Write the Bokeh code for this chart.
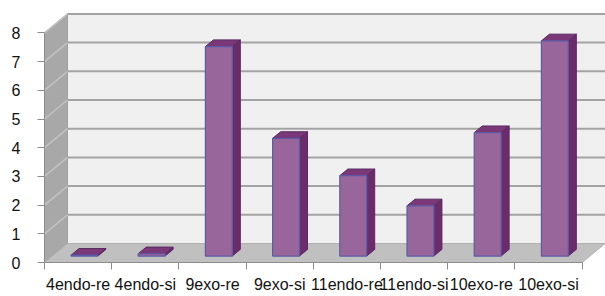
from bokeh.plotting import figure
from bokeh.models import FixedTicker, Range1d
from bokeh.embed import file_html
from bokeh.resources import INLINE

# ---- data ----
categories = ["4endo-re", "4endo-si", "9exo-re", "9exo-si",
              "11endo-re", "11endo-si", "10exo-re", "10exo-si"]
values = [0.03, 0.08, 7.3, 4.1, 2.8, 1.75, 4.3, 7.5]
y_ticks = [0, 1, 2, 3, 4, 5, 6, 7, 8]

# ---- 3D projection helpers (depth offsets in data units) ----
DX, DY = 0.342, 0.662
XA, XB = 0.278, 0.678      # bar span within a category
D0, D1 = 0.34, 0.69        # bar depth span
YMAX = y_ticks[-1]
N = len(categories)


def proj(x, v, d):
    return x + d * DX, v + d * DY


p = figure(width=605, height=296, output_backend="svg", toolbar_location=None,
           x_range=Range1d(0, 8.348), y_range=Range1d(0, 9.129),
           min_border_left=44, min_border_right=0, min_border_top=0,
           min_border_bottom=34)
p.background_fill_color = "white"
p.border_fill_color = "white"
p.outline_line_color = None
p.xgrid.visible = False
p.ygrid.visible = False

XEND = N + 1.5
# back wall
p.patch([DX, XEND, XEND, DX], [DY, DY, YMAX + DY, YMAX + DY],
        fill_color="#f0f0f0", line_color="#b4b4b4", line_width=1)
# side wall
p.patch([0, DX, DX, 0], [0, DY, YMAX + DY, YMAX],
        fill_color="#a8a8a8", line_color="#a0a0a0", line_width=1)
# floor
p.patch([0, N, N + DX, DX], [0, 0, DY, DY],
        fill_color="#c0c0c0", line_color="#b0b0b0", line_width=1)

# gridlines on back wall
gx = [[DX, XEND] for v in y_ticks[1:]]
gy = [[v + DY, v + DY] for v in y_ticks[1:]]
p.multi_line(gx, gy, line_color="#a3a3a3", line_width=2)
# gridlines on side wall
sx = [[0, DX] for v in y_ticks[1:]]
sy = [[v, v + DY] for v in y_ticks[1:]]
p.multi_line(sx, sy, line_color="#c2c2c2", line_width=1.5)

# bars
fx, fy, rx, ry, tx, ty = [], [], [], [], [], []
for i, v in enumerate(values):
    x0, x1 = i + XA, i + XB
    pts = [proj(x0, 0, D0), proj(x1, 0, D0), proj(x1, v, D0), proj(x0, v, D0)]
    fx.append([q[0] for q in pts]); fy.append([q[1] for q in pts])
    pts = [proj(x1, 0, D0), proj(x1, 0, D1), proj(x1, v, D1), proj(x1, v, D0)]
    rx.append([q[0] for q in pts]); ry.append([q[1] for q in pts])
    pts = [proj(x0, v, D0), proj(x1, v, D0), proj(x1, v, D1), proj(x0, v, D1)]
    tx.append([q[0] for q in pts]); ty.append([q[1] for q in pts])

p.patches(rx, ry, fill_color="#6a2d69", line_color="#5a2a62", line_width=1)
p.patches(tx, ty, fill_color="#7a3878", line_color="#5a2a62", line_width=1)
p.patches(fx, fy, fill_color="#99669b", line_color="#5c5aa8", line_width=1.2)

# axes
ya = p.yaxis[0]
ya.ticker = FixedTicker(ticks=y_ticks)
ya.bounds = (0, YMAX)
ya.axis_line_color = "#8c8c8c"
ya.major_tick_line_color = "#8c8c8c"
ya.major_tick_out = 7
ya.major_tick_in = 0
ya.minor_tick_line_color = None
ya.major_label_standoff = 17
ya.major_label_text_font = "Liberation Sans"
ya.major_label_text_font_size = "16px"
ya.major_label_text_color = "#111111"

xa = p.xaxis[0]
xa.ticker = FixedTicker(ticks=[i + 0.5 for i in range(N)],
                        minor_ticks=list(range(N + 1)))
xa.major_label_overrides = {i + 0.5: c for i, c in enumerate(categories)}
xa.bounds = (0, N)
xa.axis_line_color = "#8c8c8c"
xa.major_tick_line_color = None
xa.major_tick_out = 0
xa.major_tick_in = 0
xa.minor_tick_line_color = "#8c8c8c"
xa.minor_tick_out = 7
xa.minor_tick_in = 0
xa.major_label_standoff = 6
xa.major_label_text_font = "Liberation Sans"
xa.major_label_text_font_size = "16px"
xa.major_label_text_color = "#111111"

open("out.html", "w").write(file_html(p, INLINE))
